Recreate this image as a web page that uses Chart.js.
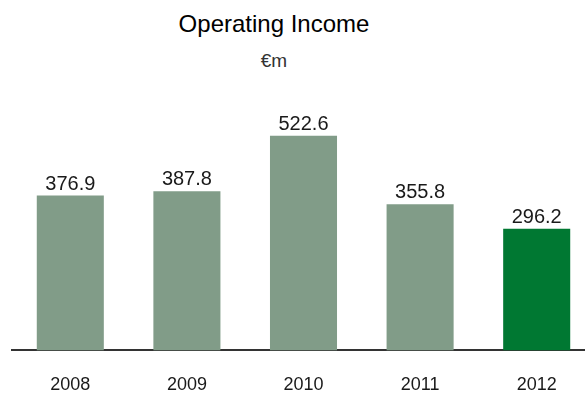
<!DOCTYPE html>
<html>
<head>
<meta charset="utf-8">
<script src="https://cdn.jsdelivr.net/npm/chart.js@4/dist/chart.umd.min.js"></script>
<style>
  html, body { margin: 0; padding: 0; background: #fff; overflow: hidden; }
  #wrap { position: relative; width: 585px; height: 394px; overflow: hidden; }
  #box { position: absolute; left: 0; top: 0; width: 595px; height: 412px; }
  .titulo, .sub { position: absolute; left: 174px; width: 200px; text-align: center;
                  font-family: "Liberation Sans", Arial, sans-serif; }
  .titulo { top: 10px; font-size: 24px; color: #000; }
  .sub { top: 50px; font-size: 19px; color: #333; }
</style>
</head>
<body>
<div id="wrap">
  <div class="titulo">Operating Income</div>
  <div class="sub">€m</div>
  <div id="box"><canvas id="grafico"></canvas></div>
</div>
<script>
// Resultado operacional por ano (em milhoes de euros)
const anos = ['2008', '2009', '2010', '2011', '2012'];
const valores = [376.9, 387.8, 522.6, 355.8, 296.2];
const coresBarras = ['#819c88', '#819c88', '#819c88', '#819c88', '#007832'];

const fonte = '"Liberation Sans", Arial, sans-serif';

// Escreve o valor por cima de cada barra
const etiquetas = {
  id: 'etiquetas',
  afterDatasetsDraw(chart) {
    const { ctx } = chart;
    const meta = chart.getDatasetMeta(0);
    ctx.save();
    ctx.font = '20px ' + fonte;
    ctx.fillStyle = '#1a1a1a';
    ctx.textAlign = 'center';
    ctx.textBaseline = 'alphabetic';
    meta.data.forEach((bar, i) => {
      ctx.fillText(valores[i].toFixed(1), bar.x, bar.y - 6);
    });
    ctx.restore();
  }
};

new Chart(document.getElementById('grafico'), {
  type: 'bar',
  data: {
    labels: anos,
    datasets: [{ data: valores, backgroundColor: coresBarras,
      categoryPercentage: 1, barPercentage: 0.575 }]
  },
  options: {
    responsive: true,
    maintainAspectRatio: false,
    animation: false,
    layout: { padding: { left: 12, top: 104, right: 0, bottom: 0 } },
    plugins: { legend: { display: false }, tooltip: { enabled: false } },
    scales: {
      y: { display: false, min: 0, max: 600 },
      x: {
        grid: { display: false },
        border: { display: true, color: '#333', width: 2 },
        ticks: { color: '#1a1a1a', font: { family: fonte, size: 18 }, padding: 16 }
      }
    }
  },
  plugins: [etiquetas]
});
</script>
</body>
</html>
